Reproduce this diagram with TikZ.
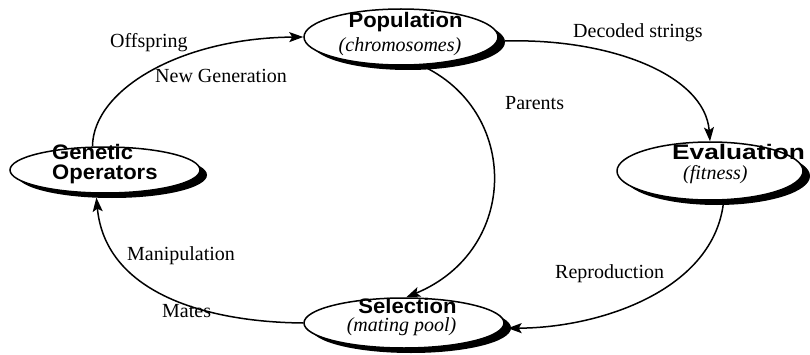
\documentclass[tikz,border=0pt]{standalone}
\usepackage{fontspec}
\usepackage{graphicx}
\setmainfont{Liberation Serif}
\newfontfamily\hsans{Liberation Sans}
\usetikzlibrary{shapes.geometric,shadows,arrows.meta}
\tikzset{
  stage/.style={ellipse, draw=black, line width=1.5pt, fill=white, inner sep=0pt,
    general shadow={fill=black, shadow xshift=7pt, shadow yshift=-5pt}},
  title/.style={font=\hsans\bfseries\fontsize{21}{21}\selectfont, inner sep=0pt, anchor=base},
  sub/.style={font=\itshape\fontsize{20}{21}\selectfont, inner sep=0pt, anchor=base},
  lbl/.style={font=\fontsize{20}{20}\selectfont, inner sep=0pt, anchor=base west},
  flow/.style={line width=1.5pt, -{Stealth[length=14pt,width=10pt,inset=3pt]}},
}
\begin{document}
\begin{tikzpicture}[x=1pt,y=1pt]
\fill[white] (0,0) rectangle (810,354);
\useasboundingbox (0,0) rectangle (810,354);

% stages
\node[stage, minimum width=194pt, minimum height=56pt] (pop) at (401,317) {};
\node[stage, minimum width=190pt, minimum height=46pt] (gen) at (105,184) {};
\node[stage, minimum width=186pt, minimum height=58pt] (eval) at (710,183) {};
\node[stage, minimum width=200pt, minimum height=50pt] (sel) at (404,31) {};

% titles
\node[title] (popt) at (405.5,326) {\scalebox{1.05}[1]{Population}};
\node[sub] (pops) at (400,302) {(chromosomes)};
\node[title, anchor=base west] (gent1) at (52,194.5) {\scalebox{1.05}[1]{Genetic}};
\node[title, anchor=base west] (gent2) at (52,175) {\scalebox{1.05}[1]{Operators}};
\node[title, anchor=base west] (evalt) at (672,194.5) {\scalebox{1.25}[1]{Evaluation}};
\node[sub, anchor=base west] (evals) at (683,175) {(fitness)};
\node[title] (selt) at (407.5,41) {\scalebox{1.05}[1]{Selection}};
\node[sub] (sels) at (401.5,22.5) {(mating pool)};

% connectors
\draw[flow] ([xshift=6pt,yshift=-4pt]pop.east) .. controls (610,316) and (705,279) .. (eval.north);
\draw[flow] (eval.-65) .. controls (715,64) and (600,26) .. ([xshift=5pt]sel.-3);
\draw[flow] (sel.west) .. controls (200,32) and (105,64) .. ([yshift=-4pt]gen.-110);
\draw[flow] (gen.118) .. controls (93,264) and (180,316) .. (pop.west);
\draw[flow] (pop.-55) .. controls (520,244) and (520,104) .. (sel.85);

% labels
\node[lbl] (l1) at (110,306) {Offspring};
\node[lbl] (l2) at (155,271) {New Generation};
\node[lbl] (l3) at (573,316) {Decoded strings};
\node[lbl] (l4) at (505,244) {Parents};
\node[lbl] (l5) at (555,76) {Reproduction};
\node[lbl] (l6) at (127,94) {Manipulation};
\node[lbl] (l7) at (162,37) {Mates};
\end{tikzpicture}
\end{document}
